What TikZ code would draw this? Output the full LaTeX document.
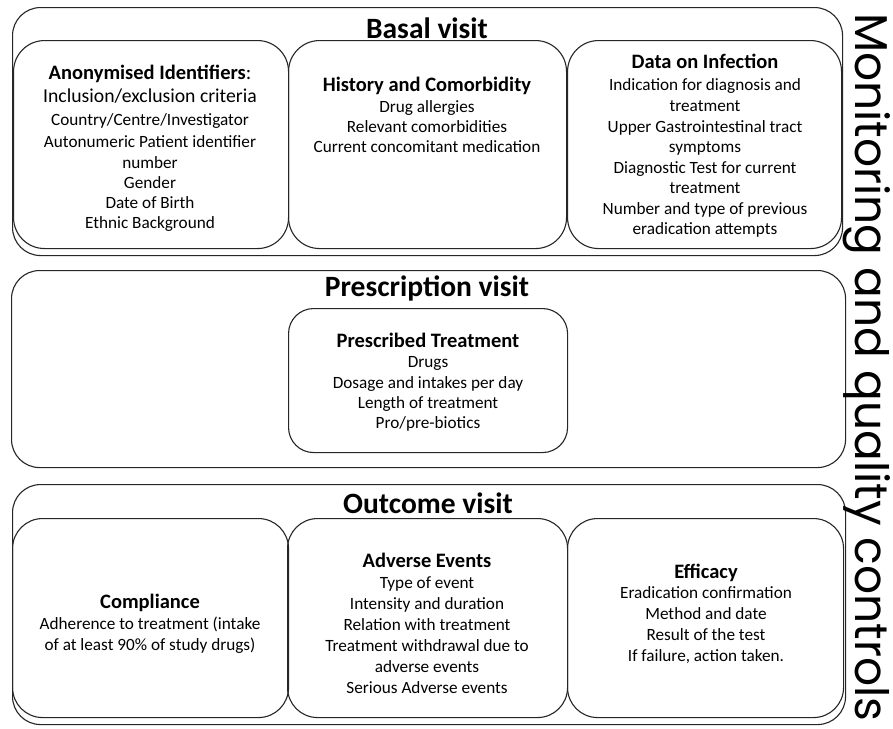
\documentclass[tikz,border=0pt]{standalone}
\usepackage{fontspec}
\setmainfont{Carlito}
\newfontfamily\sidefont{Poppins}
\begin{document}
\begin{tikzpicture}[x=1pt,y=-1pt,
  obox/.style={draw=black!85, line width=1.1pt, rounded corners=28pt, inner sep=0pt, anchor=north west},
  ibox/.style={draw=black!85, line width=1.1pt, rounded corners=31pt, inner sep=0pt, anchor=north west},
  ttl/.style={anchor=base, inner sep=0pt, font=\bfseries\fontsize{29.5}{34}\selectfont},
  hd/.style={anchor=base, inner sep=0pt, font=\bfseries\fontsize{20.5}{24}\selectfont},
  tx/.style={anchor=base, inner sep=0pt, font=\fontsize{17.2}{20}\selectfont},
  big/.style={anchor=base, inner sep=0pt, font=\fontsize{19.7}{23}\selectfont}]
\useasboundingbox[fill=white] (0,0) rectangle (893,728);

% ---------- Basal visit ----------
\node[obox, minimum width=830pt, minimum height=248pt] (basal) at (12,7) {};
\node[ibox, minimum width=275pt, minimum height=208pt] (anon) at (13,40) {};
\node[ibox, minimum width=278pt, minimum height=208pt] (hist) at (288,40) {};
\node[ibox, minimum width=274pt, minimum height=208pt] (dinf) at (567,40) {};
\node[ttl] (tbasal) at (427,38) {Basal visit};

\node[hd] (a1) at (150,79) {Anonymised Identifiers\mdseries:};
\node[big] (a2) at (150,102) {Inclusion/exclusion criteria};
\node[tx] (a3) at (150,125) {Country/Centre/Investigator};
\node[tx] (a4) at (150,147) {Autonumeric Patient identifier};
\node[tx] (a5) at (150,168) {number};
\node[tx] (a6) at (150,188) {Gender};
\node[tx] (a7) at (150,208) {Date of Birth};
\node[tx] (a8) at (150,228) {Ethnic Background};

\node[hd] (h1) at (427,91) {History and Comorbidity};
\node[tx] (h2) at (427,112) {Drug allergies};
\node[tx] (h3) at (427,132) {Relevant comorbidities};
\node[tx] (h4) at (427,152) {Current concomitant medication};

\node[hd] (d1) at (705,68) {Data on Infection};
\node[tx] (d2) at (705,90) {Indication for diagnosis and};
\node[tx] (d3) at (705,111) {treatment};
\node[tx] (d4) at (705,132) {Upper Gastrointestinal tract};
\node[tx] (d5) at (705,152) {symptoms};
\node[tx] (d6) at (705,173) {Diagnostic Test for current};
\node[tx] (d7) at (705,193) {treatment};
\node[tx] (d8) at (705,214) {Number and type of previous};
\node[tx] (d9) at (705,234) {eradication attempts};

% ---------- Prescription visit ----------
\node[obox, minimum width=834pt, minimum height=197pt] (presc) at (11,270) {};
\node[ibox, rounded corners=25pt, minimum width=279pt, minimum height=144pt] (ptreat) at (288,308) {};
\node[ttl] (tpresc) at (427,296) {Prescription visit};
\node[hd] (p1) at (428,347) {Prescribed Treatment};
\node[tx] (p2) at (428,367) {Drugs};
\node[tx] (p3) at (428,388) {Dosage and intakes per day};
\node[tx] (p4) at (428,408) {Length of treatment};
\node[tx] (p5) at (428,428) {Pro/pre-biotics};

% ---------- Outcome visit ----------
\node[obox, minimum width=833pt, minimum height=240pt] (outc) at (12,484) {};
\node[ibox, rounded corners=30pt, minimum width=276pt, minimum height=199pt] (compl) at (12,518) {};
\node[ibox, rounded corners=30pt, minimum width=280pt, minimum height=199pt] (adv) at (287,518) {};
\node[ibox, rounded corners=30pt, minimum width=276pt, minimum height=199pt] (effi) at (567,518) {};
\node[ttl] (toutc) at (428,513) {Outcome visit};

\node[hd] (c1) at (150,608) {Compliance};
\node[tx] (c2) at (150,629) {Adherence to treatment (intake};
\node[tx] (c3) at (150,650) {of at least 90\% of study drugs)};

\node[hd] (v1) at (427,567) {Adverse Events};
\node[tx] (v2) at (427,588) {Type of event};
\node[tx] (v3) at (427,609) {Intensity and duration};
\node[tx] (v4) at (427,630) {Relation with treatment};
\node[tx] (v5) at (427,651) {Treatment withdrawal due to};
\node[tx] (v6) at (427,672) {adverse events};
\node[tx] (v7) at (427,693) {Serious Adverse events};

\node[hd] (e1) at (706,578) {Efficacy};
\node[tx] (e2) at (706,598) {Eradication confirmation};
\node[tx] (e3) at (706,619) {Method and date};
\node[tx] (e4) at (706,640) {Result of the test};
\node[tx] (e5) at (706,661) {If failure, action taken.};

% ---------- side label ----------
\node[anchor=base west, rotate=-90, inner sep=0pt] (side) at (855,13)
  {\resizebox{708pt}{35pt}{\sidefont\fontsize{36}{40}\selectfont Monitoring and quality controls}};
\end{tikzpicture}
\end{document}
